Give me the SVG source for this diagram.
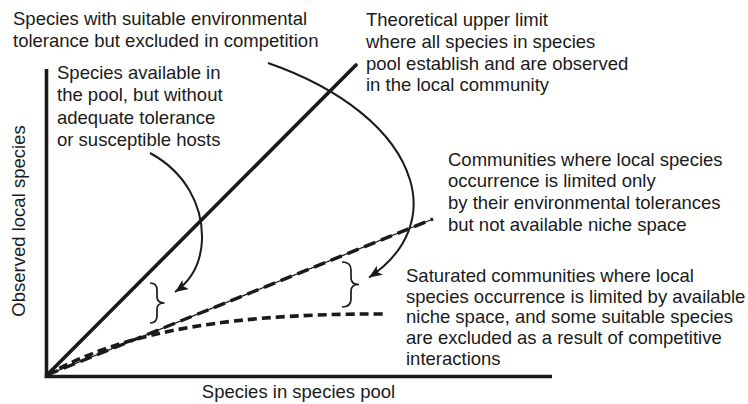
<svg xmlns="http://www.w3.org/2000/svg" width="748" height="404" viewBox="0 0 748 404">
<style>
text{font-family:"Liberation Sans",Arial,Helvetica,sans-serif;font-size:18.5px;fill:#1a1a1a}
.axis{stroke:#1a1a1a;stroke-width:3.6;fill:none}
.solid{stroke:#1a1a1a;stroke-width:3.6;fill:none;stroke-linecap:round}
.thin{stroke:#1a1a1a;stroke-width:1.3;fill:none}
.ldash{stroke:#1a1a1a;stroke-width:3.4;fill:none;stroke-dasharray:12 6}
.sdash{stroke:#1a1a1a;stroke-width:3.6;fill:none;stroke-dasharray:9 5}
.arc{stroke:#1a1a1a;stroke-width:2;fill:none;marker-end:url(#ah)}
.brace{stroke:#1a1a1a;stroke-width:1.7;fill:none}
</style>
<defs>
<marker id="ah" markerWidth="15" markerHeight="12" refX="13" refY="5.5" orient="auto" markerUnits="userSpaceOnUse">
<path d="M0,0 L13,5.5 L0,11 L3,5.5 z" fill="#1a1a1a"/>
</marker>
</defs>

<g id="axes">
<line class="axis" x1="46.5" y1="69" x2="46.5" y2="378"/>
<line class="axis" x1="44.7" y1="376.5" x2="552" y2="376.5"/>
<text id="x-label" x="298.5" y="398" text-anchor="middle">Species in species pool</text>
<text id="y-label" transform="translate(25,221) rotate(-90)" text-anchor="middle">Observed local species</text>
</g>

<g id="curves">
<line id="upper-limit" class="solid" x1="47" y1="375" x2="356" y2="65"/>
<g id="env-limited">
<line class="thin" x1="47" y1="375" x2="433" y2="219"/>
<line class="ldash" x1="47" y1="375" x2="433" y2="219"/>
</g>
<path id="saturated" class="sdash" d="M47,375 C110,340 200,313 386,314"/>
</g>

<g id="braces">
<path id="brace-1" class="brace" d="M150,283 Q157,283 157,290 L157,297 Q157,303 164.5,303 Q157,303 157,309 L157,316 Q157,323 150,323"/>
<path id="brace-2" class="brace" d="M342,262 Q351,262 351,270 L351,278 Q351,284.5 359,284.5 Q351,284.5 351,291 L351,299 Q351,307 342,307"/>
</g>

<g id="connectors">
<path id="arrow-1" class="arc" d="M150,153 C185,172 203,205 202,240 C201,262 192,280 175,292"/>
<path id="arrow-2" class="arc" d="M268,63 C340,88 395,130 410,180 C420,213 410,250 369,277.5"/>
</g>

<g id="label-excluded">
<text x="13" y="25">Species with suitable environmental</text>
<text x="13" y="46.8">tolerance but excluded in competition</text>
</g>

<g id="label-unavailable">
<text x="57" y="78.5">Species available in</text>
<text x="57" y="101">the pool, but without</text>
<text x="57" y="123.5">adequate tolerance</text>
<text x="57" y="146">or susceptible hosts</text>
</g>

<g id="label-theoretical">
<text x="366" y="26">Theoretical upper limit</text>
<text x="366" y="47.8">where all species in species</text>
<text x="366" y="69.6">pool establish and are observed</text>
<text x="366" y="91.4">in the local community</text>
</g>

<g id="label-communities">
<text x="448" y="165.5">Communities where local species</text>
<text x="448" y="187.3">occurrence is limited only</text>
<text x="448" y="209.1">by their environmental tolerances</text>
<text x="448" y="230.9">but not available niche space</text>
</g>

<g id="label-saturated">
<text x="406" y="281.8">Saturated communities where local</text>
<text x="406" y="302.6">species occurrence is limited by available</text>
<text x="406" y="323.4">niche space, and some suitable species</text>
<text x="406" y="344.2">are excluded as a result of competitive</text>
<text x="406" y="365">interactions</text>
</g>
</svg>
